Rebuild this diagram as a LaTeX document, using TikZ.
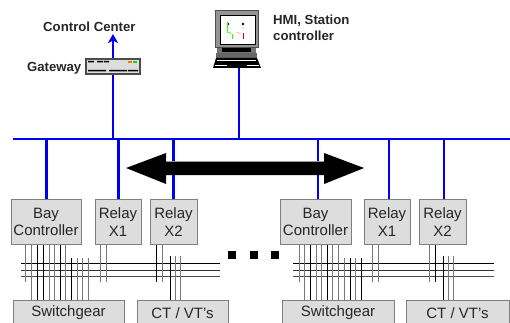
\documentclass[tikz,border=0pt]{standalone}
\usepackage{fontspec}
\setmainfont{Liberation Sans}
\usetikzlibrary{calc,arrows.meta}
\definecolor{boxfill}{HTML}{DDDDDD}
\definecolor{boxline}{HTML}{7F7F7F}
\definecolor{wire}{HTML}{777777}
\definecolor{netblue}{HTML}{0000F0}
\tikzset{
  unit/.style={draw=boxline,fill=boxfill,line width=1pt,inner sep=0pt,font=\fontsize{15}{17.5}\selectfont,align=center,text=black!85},
  lab/.style={inner sep=0pt,font=\fontsize{13.2}{15.5}\selectfont\bfseries,text=black!85,align=left},
  net/.style={draw=netblue,line width=2pt},
  netb/.style={draw=netblue,line width=3pt},
  gw/.style={draw=wire,line width=1.3pt},
  bw/.style={draw=black,line width=1pt},
  dot/.style={fill=black,inner sep=0pt,minimum size=8pt},
}
\begin{document}
\begin{tikzpicture}[x=1pt,y=-1pt]
\useasboundingbox (0,0) rectangle (510,323);
% boxes
\node[unit,minimum width=70pt,minimum height=45pt] (bayL) at (46,222) {Bay\\Controller};
\node[unit,minimum width=46pt,minimum height=45pt] (x1L) at (118,222) {Relay\\X1};
\node[unit,minimum width=47pt,minimum height=45pt] (x2L) at (173.5,222) {Relay\\X2};
\node[unit,minimum width=71pt,minimum height=45pt] (bayR) at (315.5,222) {Bay\\Controller};
\node[unit,minimum width=46pt,minimum height=45pt] (x1R) at (387,222) {Relay\\X1};
\node[unit,minimum width=47pt,minimum height=45pt] (x2R) at (442.5,222) {Relay\\X2};
\node[unit,minimum width=111pt,minimum height=26pt] (swL) at (68.5,313) {Switchgear};
\node[unit,minimum width=91pt,minimum height=26pt] (ctL) at (182.5,313) {CT / VT's};
\node[unit,minimum width=112pt,minimum height=26pt] (swR) at (338,313) {Switchgear};
\node[unit,minimum width=103pt,minimum height=26pt] (ctR) at (457.5,313) {CT / VT's};
% bus
\coordinate (busW) at (13,139);
\coordinate (busE) at (510,139);
\coordinate (upT) at (113,34);
\draw[net] (busW) -- (busE);
% gateway
\node[draw=black!70,fill=boxfill,line width=1.2pt,minimum width=54pt,minimum height=15pt,inner sep=0pt] (gate) at (113,66.5) {};
\draw[net,-{Stealth[length=9pt,width=10pt,inset=2.5pt]}] (gate.north) -- (upT);
\draw[net] (gate.south) -- (gate.south |- busW);
\fill[black] (88,61) rectangle (94,62.5) (97,61) rectangle (103,62.5) (104,61) rectangle (109,62.5);
\fill[black] (88,70) rectangle (106,71.5) (109,70) rectangle (127,71.5) (128,70) rectangle (138,71.5);
\fill[orange!90!red] (128,61) rectangle (132,63);
\fill[green!90!black] (133,61) rectangle (137,63);
% HMI
\coordinate (hmi) at (239,67.5);
\draw[net] (hmi) -- (hmi |- busW);
\fill[black!55] (217,48) rectangle (256,53);
\fill[black] (222,48) rectangle (251,52.5);
\fill[black!60] (216,53) rectangle (257,58);
\fill[black] (216,58) -- (257,58) -- (261,68) -- (213,68) -- cycle;
\draw[white,line width=.5pt] (217,60) -- (256,60) (215,65) -- (227,65) (247,65) -- (259,65);
\draw[black!70,fill=black!42,line width=1pt] (215,10.5) rectangle (258,48);
\draw[black,fill=white,line width=1pt] (220.5,16) rectangle (255,45);
\fill[black] (228,24) circle (1.3) (243,24) circle (1.3);
\draw[green!70!yellow,line width=1pt] (227.5,22) -- (227.5,33) (229,32) -- (231,34);
\draw[green!80!yellow,line width=1pt] (232.5,34) -- (232.5,39);
\draw[red!85!black,line width=1pt] (243.5,33) -- (243.5,39);
\draw[red!25,line width=1pt] (237,32) -- (241,34) (243,27) -- (243,29);
\fill[black] (221,44) rectangle (226,45.5);
% network drops
\draw[netb] (busW -| bayL.north) -- (bayL.north);
\draw[netb] (busW -| x1L.north) -- (x1L.north);
\draw[netb] (busW -| x2L.north) -- (x2L.north);
\draw[net] ($(bayR.north |- busW)+(2.5,0)$) -- ($(bayR.north)+(2.5,0)$);
\draw[net] ($(x1R.north |- busW)+(2,0)$) -- ($(x1R.north)+(2,0)$);
\draw[net] ($(x2R.north |- busW)+(1.5,0)$) -- ($(x2R.north)+(1.5,0)$);
% big arrow
\fill[black!40] (166,161) rectangle (324,163);
\fill[black] (126,168) -- (166,153) -- (166,162) -- (324,162) -- (324,153) -- (364,168) -- (324,184) -- (324,175) -- (166,175) -- (166,184) -- cycle;
% dots
\node[dot] (d1) at (232,255) {};
\node[dot] (d2) at (254,255) {};
\node[dot] (d3) at (275,255) {};
% station wiring, horizontal
\foreach \y/\s in {263.5/black,270/black!80,276/black!70}{
  \draw[draw=\s,line width=1pt] (21,\y) -- (220,\y);
  \draw[draw=\s,line width=1pt] (293,\y) -- (494,\y);
}
% vertical wires, left
\foreach \x/\s in {25.5/gw}
  \draw[\s] (\x,0 |- bayL.south) -- (\x,282);
\foreach \x/\s in {31.5/gw,37.5/bw,43.5/bw,49.5/gw,54.5/gw,60.5/bw,65.5/gw}
  \draw[\s] (\x,0 |- bayL.south) -- (\x,0 |- swL.north);
\foreach \x/\s in {71.5/bw,77.5/gw,82.5/gw,88.5/gw}
  \draw[\s] (\x,258) -- (\x,0 |- swL.north);
\foreach \x/\s in {100.5/gw,106.5/gw}
  \draw[\s] (\x,0 |- x1L.south) -- (\x,282);
\foreach \x/\s in {156.5/bw,162.5/gw}
  \draw[\s] (\x,0 |- x2L.south) -- (\x,282);
\foreach \x/\s in {170.5/bw,175.5/gw,180.5/gw}
  \draw[\s] (\x,256) -- (\x,0 |- ctL.north);
% vertical wires, right
\foreach \x/\s in {299.5/gw}
  \draw[\s] (\x,0 |- bayR.south) -- (\x,282);
\foreach \x/\s in {304.5/gw,310.5/bw,316.5/gw,321.5/gw,327.5/bw,332.5/gw,338.5/gw}
  \draw[\s] (\x,0 |- bayR.south) -- (\x,0 |- swR.north);
\foreach \x/\s in {344.5/gw,350.5/bw,355.5/gw,361.5/bw}
  \draw[\s] (\x,258) -- (\x,0 |- swR.north);
\foreach \x/\s in {372.5/gw,378.5/gw}
  \draw[\s] (\x,0 |- x1R.south) -- (\x,282);
\foreach \x/\s in {429.5/gw,435.5/bw}
  \draw[\s] (\x,0 |- x2R.south) -- (\x,282);
\foreach \x/\s in {443.5/bw,448.5/gw,453.5/gw}
  \draw[\s] (\x,256) -- (\x,0 |- ctR.north);
% labels
\node[lab,anchor=west] (cc) at (43,26.5) {Control Center};
\node[lab,anchor=east] (gl) at (81.5,68.5) {Gateway};
\node[lab,anchor=north west] (hl) at (273,15) {HMI, Station\\controller};
\end{tikzpicture}
\end{document}
